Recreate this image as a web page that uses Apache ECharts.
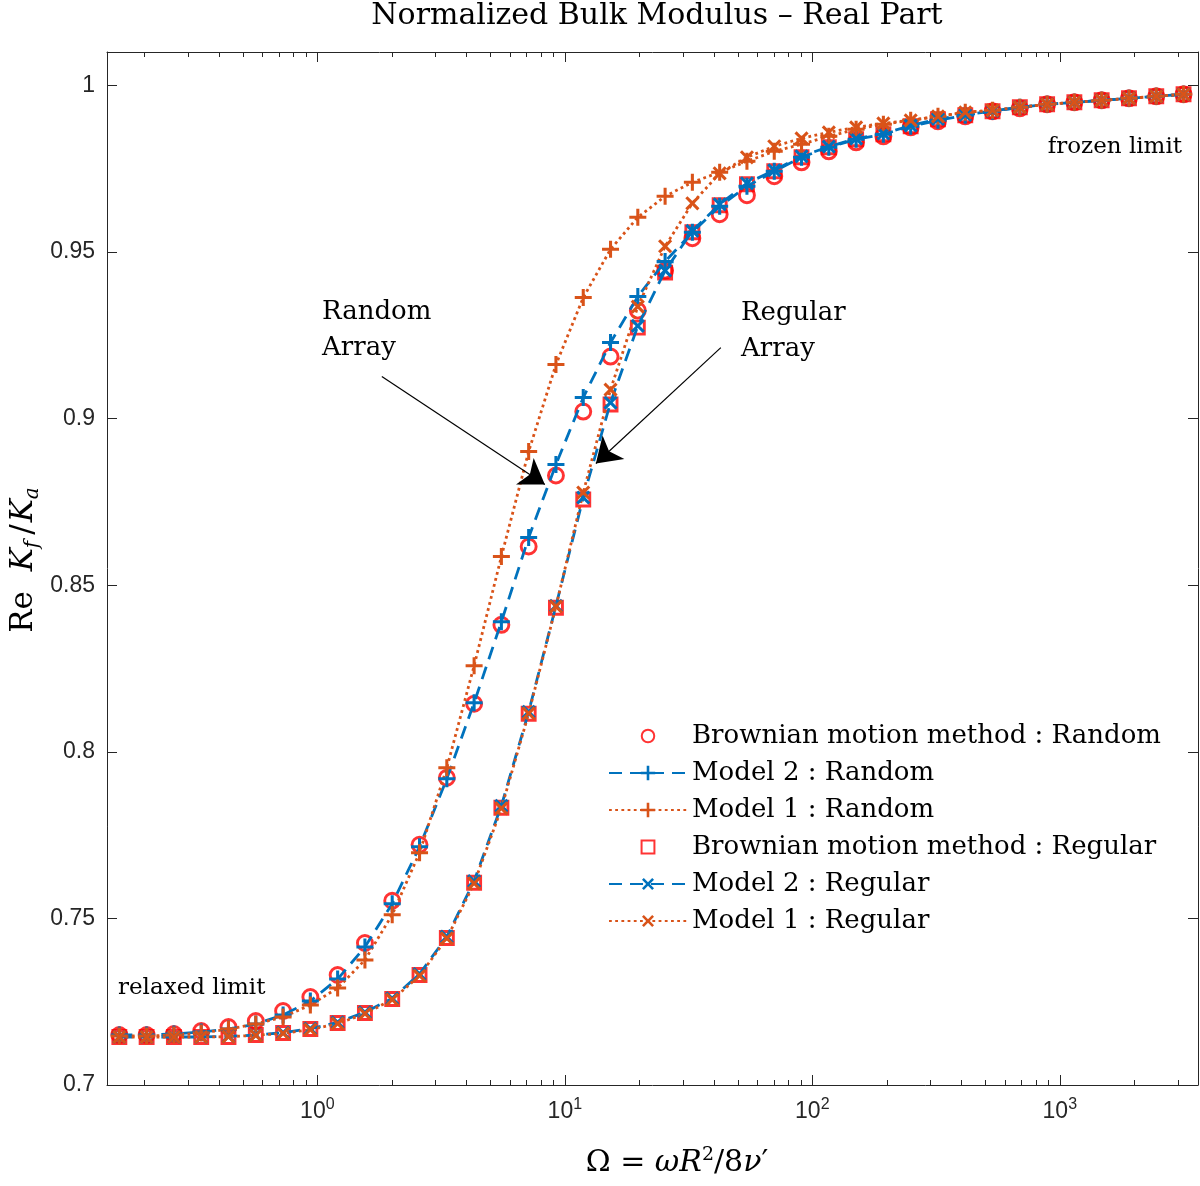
<!DOCTYPE html>
<html>
<head>
<meta charset="utf-8">
<script src="https://cdn.jsdelivr.net/npm/echarts@6/dist/echarts.min.js"></script>
<style>
  html, body { margin: 0; padding: 0; background: #fff; }
  #chart { width: 1200px; height: 1186px; }
</style>
</head>
<body>
<div id="chart"></div>
<script>
// frequency points (Omega)
var omega = [0.1585, 0.2043, 0.2633, 0.3395, 0.4375, 0.5641, 0.7272, 0.9371, 1.208, 1.557,
             2.007, 2.588, 3.336, 4.300, 5.542, 7.143, 9.207, 11.87, 15.30, 19.72,
             25.42, 32.76, 42.23, 54.43, 70.18, 90.46, 116.6, 150.3, 193.7, 249.7,
             321.9, 414.9, 534.8, 689.4, 888.6, 1145, 1476, 1903, 2453, 3162];

var brownianRandom = [0.7150, 0.7150, 0.7153, 0.7162, 0.7174, 0.7192, 0.7222, 0.7264, 0.7330, 0.7426,
                      0.7553, 0.7721, 0.7922, 0.8144, 0.8381, 0.8616, 0.8829, 0.9021, 0.9186, 0.9324,
                      0.9444, 0.9541, 0.9613, 0.9670, 0.9727, 0.9769, 0.9802, 0.9829, 0.9847, 0.9874,
                      0.9892, 0.9907, 0.9922, 0.9931, 0.9943, 0.9949, 0.9955, 0.9961, 0.9967, 0.9973];

var model2Random = [0.7150, 0.7150, 0.7153, 0.7159, 0.7168, 0.7183, 0.7210, 0.7252, 0.7318, 0.7414,
                    0.7544, 0.7715, 0.7919, 0.8147, 0.8390, 0.8643, 0.8862, 0.9063, 0.9228, 0.9366,
                    0.9471, 0.9559, 0.9637, 0.9697, 0.9742, 0.9784, 0.9814, 0.9838, 0.9853, 0.9877,
                    0.9895, 0.9910, 0.9922, 0.9934, 0.9943, 0.9949, 0.9955, 0.9961, 0.9967, 0.9973];

var model1Random = [0.7147, 0.7147, 0.7150, 0.7156, 0.7168, 0.7183, 0.7204, 0.7240, 0.7291, 0.7375,
                    0.7511, 0.7697, 0.7952, 0.8258, 0.8586, 0.8901, 0.9162, 0.9363, 0.9508, 0.9604,
                    0.9667, 0.9709, 0.9739, 0.9772, 0.9802, 0.9823, 0.9847, 0.9868, 0.9883, 0.9895,
                    0.9907, 0.9919, 0.9925, 0.9934, 0.9943, 0.9949, 0.9955, 0.9961, 0.9967, 0.9973];

var brownianRegular = [0.7144, 0.7144, 0.7144, 0.7144, 0.7144, 0.7150, 0.7156, 0.7168, 0.7186, 0.7216,
                       0.7258, 0.7330, 0.7441, 0.7607, 0.7832, 0.8114, 0.8432, 0.8757, 0.9042, 0.9273,
                       0.9438, 0.9559, 0.9640, 0.9703, 0.9742, 0.9784, 0.9814, 0.9838, 0.9853, 0.9877,
                       0.9898, 0.9910, 0.9922, 0.9934, 0.9943, 0.9949, 0.9955, 0.9961, 0.9967, 0.9973];

var model2Regular = [0.7144, 0.7144, 0.7144, 0.7144, 0.7146, 0.7150, 0.7157, 0.7169, 0.7188, 0.7218,
                     0.7260, 0.7333, 0.7445, 0.7612, 0.7838, 0.8120, 0.8438, 0.8763, 0.9048, 0.9278,
                     0.9444, 0.9563, 0.9643, 0.9706, 0.9745, 0.9787, 0.9816, 0.9840, 0.9855, 0.9879,
                     0.9899, 0.9911, 0.9923, 0.9934, 0.9943, 0.9949, 0.9955, 0.9961, 0.9967, 0.9973];

var model1Regular = [0.7144, 0.7144, 0.7144, 0.7144, 0.7145, 0.7149, 0.7155, 0.7166, 0.7184, 0.7214,
                     0.7256, 0.7328, 0.7440, 0.7605, 0.7830, 0.8115, 0.8436, 0.8778, 0.9087, 0.9336,
                     0.9517, 0.9646, 0.9736, 0.9784, 0.9817, 0.9841, 0.9859, 0.9874, 0.9886, 0.9895,
                     0.9907, 0.9919, 0.9925, 0.9934, 0.9943, 0.9949, 0.9955, 0.9961, 0.9967, 0.9973];

var seriesNames = ['Brownian motion method : Random', 'Model 2 : Random', 'Model 1 : Random',
                   'Brownian motion method : Regular', 'Model 2 : Regular', 'Model 1 : Regular'];

// axis ticks
var xMajorTicks = [1, 10, 100, 1000];
var xMinorTicks = [0.2, 0.3, 0.4, 0.5, 0.6, 0.7, 0.8, 0.9,
                   2, 3, 4, 5, 6, 7, 8, 9,
                   20, 30, 40, 50, 60, 70, 80, 90,
                   200, 300, 400, 500, 600, 700, 800, 900,
                   2000, 3000];
var yTicks = [0.7, 0.75, 0.8, 0.85, 0.9, 0.95, 1];

// arrow annotations [x, y] in data units
var randomArrow = [[1.822, 0.9126], [8.304, 0.8802]];
var regularArrow = [[42.69, 0.9213], [13.35, 0.8865]];

var chart = echarts.init(document.getElementById('chart'), null, { renderer: 'canvas' });

var BLUE = '#0072BD', ORANGE = '#D95319', RED = '#FF0000', AX = '#262626';
var SERIF = 'DejaVu Serif';
var PLUS = 'path://M0,4.1H4.1V0H5.9V4.1H10V5.9H5.9V10H4.1V5.9H0Z';
// legend-only icons with empty margin so they come out marker sized
var LEG_CIRCLE = 'path://M-2.2,-2.2M12.2,12.2M0,5A5,5,0,1,1,10,5A5,5,0,1,1,0,5Z';
var LEG_SQUARE = 'path://M-2,-2M12,12M0,0H10V10H0Z';

function pairs(ys) {
    return omega.map(function (x, i) { return [x, ys[i]]; });
}

function xAxisCfg(pos, ticks, len, showLine) {
    return {
        type: 'log', logBase: 10, gridIndex: 0, position: pos,
        min: 0.1413, max: 3617,
        axisLine: { show: showLine, onZero: false, lineStyle: { color: AX, width: 1 } },
        axisTick: { show: true, inside: true, length: len, customValues: ticks, lineStyle: { color: AX, width: 1 } },
        axisLabel: { show: false },
        splitLine: { show: false },
        minorTick: { show: false }
    };
}

var xMain = xAxisCfg('bottom', xMajorTicks, 10, true);
xMain.axisLabel = {
    show: true, customValues: xMajorTicks, margin: 12, color: AX,
    fontFamily: 'Liberation Sans', fontSize: 23,
    formatter: function (v) {
        return '{b|10}{s|' + Math.round(Math.log(v) / Math.LN10) + '}';
    },
    rich: {
        b: { fontFamily: 'Liberation Sans', fontSize: 23, color: AX, lineHeight: 30 },
        s: { fontFamily: 'Liberation Sans', fontSize: 16, color: AX, lineHeight: 14, verticalAlign: 'top' }
    }
};

function yAxisCfg(pos, labels) {
    return {
        type: 'value', position: pos, min: 0.7, max: 1.01, interval: 0.05,
        axisLine: { show: true, onZero: false, lineStyle: { color: AX, width: 1 } },
        axisTick: { show: true, inside: true, length: 10, customValues: yTicks, lineStyle: { color: AX, width: 1 } },
        axisLabel: {
            show: labels, customValues: yTicks, margin: 12, color: AX,
            fontFamily: 'Liberation Sans', fontSize: 23,
            formatter: function (v) { return String(parseFloat(v.toFixed(2))); }
        },
        splitLine: { show: false }
    };
}

function lineSeries(name, ys, color, dash, rotate) {
    return {
        name: name, type: 'line', data: pairs(ys),
        symbol: PLUS, symbolSize: 17, symbolRotate: rotate, symbolKeepAspect: true,
        showSymbol: true, showAllSymbol: true,
        itemStyle: { color: color },
        lineStyle: { color: color, width: 2.8, type: dash, cap: 'butt' },
        emphasis: { disabled: true }
    };
}

function markerSeries(name, ys, sym, size) {
    return {
        name: name, type: 'scatter', data: pairs(ys),
        symbol: sym, symbolSize: size,
        itemStyle: { color: 'rgba(0,0,0,0)', borderColor: RED, borderWidth: 2.9 },
        emphasis: { disabled: true }
    };
}

var arrowStyle = {
    silent: true, symbol: ['none', 'arrow'], symbolSize: 24,
    label: { show: false },
    lineStyle: { color: '#000', width: 1.2, type: 'solid' },
    animation: false
};

var randomSeries = markerSeries(seriesNames[0], brownianRandom, 'circle', 15);
randomSeries.markLine = Object.assign({}, arrowStyle, {
    data: [
        [{ coord: randomArrow[0] }, { coord: randomArrow[1] }],
        [{ coord: regularArrow[0] }, { coord: regularArrow[1] }]
    ]
});

var option = {
    animation: false,
    backgroundColor: '#fff',
    grid: { left: 107, right: 2, top: 52, bottom: 101, containLabel: false },
    xAxis: [
        xMain,
        xAxisCfg('bottom', xMinorTicks, 5, false),
        xAxisCfg('top', xMajorTicks, 10, true),
        xAxisCfg('top', xMinorTicks, 5, false)
    ],
    yAxis: [yAxisCfg('left', true), yAxisCfg('right', false)],
    legend: {
        orient: 'vertical', left: 603, top: 716,
        itemWidth: 78, itemHeight: 18, itemGap: 7,
        selectedMode: false,
        textStyle: { fontFamily: SERIF, fontSize: 26, color: '#000', lineHeight: 30 },
        data: [
            { name: seriesNames[0], icon: LEG_CIRCLE },
            seriesNames[1],
            seriesNames[2],
            { name: seriesNames[3], icon: LEG_SQUARE },
            seriesNames[4],
            seriesNames[5]
        ]
    },
    series: [
        randomSeries,
        lineSeries(seriesNames[1], model2Random, BLUE, [13, 8], 0),
        lineSeries(seriesNames[2], model1Random, ORANGE, [2.8, 3.4], 0),
        markerSeries(seriesNames[3], brownianRegular, 'rect', 13),
        lineSeries(seriesNames[4], model2Regular, BLUE, [13, 8], 45),
        lineSeries(seriesNames[5], model1Regular, ORANGE, [2.8, 3.4], 45)
    ],
    graphic: [
        { type: 'text', x: 657, y: 16, z: 100,
          style: { text: 'Normalized Bulk Modulus \u2013 Real Part', font: '30px "DejaVu Serif"', fill: '#000',
                   align: 'center', verticalAlign: 'middle' } },
        { type: 'text', x: 677, y: 1163, z: 100,
          style: { text: '\u03A9 = {i|\u03C9R}{p|2}/8{i|\u03BD}\u2032', fill: '#000', align: 'center', verticalAlign: 'middle',
                   font: '30px "DejaVu Serif"',
                   rich: {
                       i: { fontFamily: SERIF, fontStyle: 'italic', fontSize: 30, lineHeight: 34 },
                       p: { fontFamily: SERIF, fontSize: 19, lineHeight: 16, verticalAlign: 'top' }
                   } } },
        { type: 'text', x: 24, y: 560, rotation: Math.PI / 2, z: 100,
          style: { text: 'Re  {i|K}{s|f}{r|/}{i|K}{s|a}', fill: '#000', align: 'center', verticalAlign: 'middle',
                   font: '31px "DejaVu Serif"',
                   rich: {
                       i: { fontFamily: SERIF, fontStyle: 'italic', fontSize: 31, lineHeight: 38 },
                       r: { fontFamily: SERIF, fontSize: 31, lineHeight: 38, padding: [0, 2, 0, 6] },
                       s: { fontFamily: SERIF, fontStyle: 'italic', fontSize: 20, lineHeight: 16, verticalAlign: 'bottom' }
                   } } },
        { type: 'text', x: 322, y: 312, z: 100,
          style: { text: 'Random', font: '26px "DejaVu Serif"', fill: '#000', verticalAlign: 'middle' } },
        { type: 'text', x: 322, y: 348, z: 100,
          style: { text: 'Array', font: '26px "DejaVu Serif"', fill: '#000', verticalAlign: 'middle' } },
        { type: 'text', x: 741, y: 313, z: 100,
          style: { text: 'Regular', font: '26px "DejaVu Serif"', fill: '#000', verticalAlign: 'middle' } },
        { type: 'text', x: 741, y: 349, z: 100,
          style: { text: 'Array', font: '26px "DejaVu Serif"', fill: '#000', verticalAlign: 'middle' } },
        { type: 'text', x: 118, y: 988, z: 100,
          style: { text: 'relaxed limit', font: '23px "DejaVu Serif"', fill: '#000', verticalAlign: 'middle' } },
        { type: 'text', x: 1182, y: 147, z: 100,
          style: { text: 'frozen limit', font: '23px "DejaVu Serif"', fill: '#000', align: 'right', verticalAlign: 'middle' } }
    ]
};

chart.setOption(option);
</script>
</body>
</html>
